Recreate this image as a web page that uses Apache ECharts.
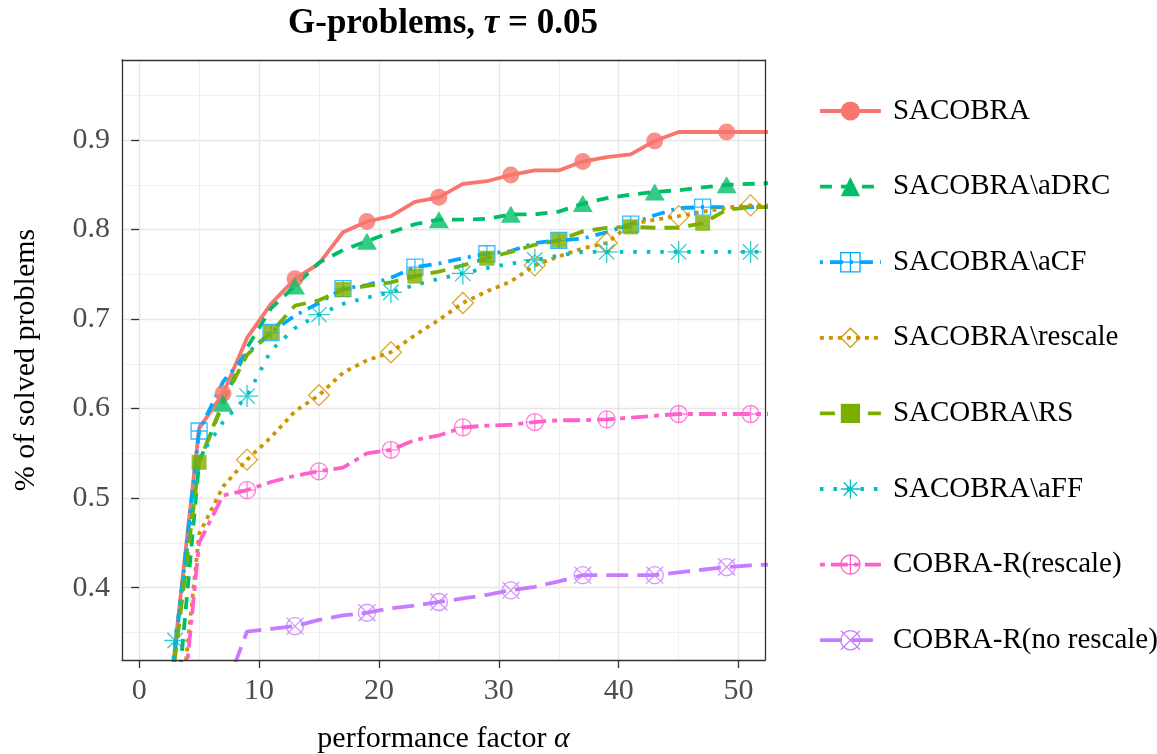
<!DOCTYPE html>
<html><head><meta charset="utf-8">
<script src="https://cdn.jsdelivr.net/npm/echarts@6/dist/echarts.min.js"></script>
<style>html,body{margin:0;padding:0;background:#fff}#c{width:1157px;height:754px}</style>
</head><body><div id="c"></div>
<script>
// ---- data ----
const alphaX = [1,3,5,7,9,11,13,15,17,19,21,23,25,27,29,31,33,35,37,39,41,43,45,47,49,51,53];
const seriesNames = ['SACOBRA','SACOBRA\\aDRC','SACOBRA\\aCF','SACOBRA\\rescale','SACOBRA\\RS','SACOBRA\\aFF','COBRA-R(rescale)','COBRA-R(no rescale)'];
const sacobra      = [0.05,0.335,0.578,0.617,0.679,0.717,0.745,0.762,0.797,0.809,0.815,0.831,0.836,0.851,0.854,0.861,0.866,0.866,0.876,0.881,0.884,0.899,0.909,0.909,0.909,0.909,0.909];
const noADRC       = [0.05,0.245,0.540,0.606,0.668,0.712,0.737,0.763,0.777,0.787,0.797,0.806,0.811,0.811,0.812,0.817,0.817,0.820,0.829,0.835,0.839,0.842,0.844,0.847,0.850,0.851,0.852];
const noACF        = [0.05,0.330,0.575,0.630,0.662,0.685,0.704,0.718,0.734,0.738,0.746,0.758,0.762,0.768,0.773,0.776,0.785,0.788,0.790,0.797,0.806,0.816,0.824,0.825,0.825,0.825,0.825];
const noRescale    = [0.03,0.200,0.460,0.513,0.543,0.568,0.597,0.615,0.640,0.654,0.663,0.682,0.699,0.718,0.731,0.742,0.760,0.770,0.779,0.785,0.806,0.811,0.815,0.820,0.824,0.827,0.827];
const noRS         = [0.05,0.323,0.540,0.608,0.660,0.685,0.715,0.721,0.733,0.737,0.741,0.748,0.753,0.760,0.768,0.775,0.783,0.788,0.798,0.802,0.803,0.802,0.802,0.807,0.822,0.825,0.825];
const noAFF        = [0.05,0.341,0.545,0.585,0.614,0.665,0.690,0.705,0.717,0.724,0.730,0.738,0.745,0.751,0.757,0.762,0.766,0.771,0.775,0.775,0.775,0.775,0.775,0.775,0.775,0.775,0.775];
const cobraRescale = [0.02,0.177,0.450,0.503,0.509,0.518,0.525,0.530,0.534,0.550,0.554,0.565,0.570,0.579,0.581,0.582,0.585,0.587,0.587,0.588,0.590,0.592,0.594,0.594,0.594,0.594,0.594];
const cobraNoResc  = [0.02,0.050,0.100,0.280,0.351,0.354,0.357,0.364,0.369,0.372,0.377,0.380,0.384,0.388,0.392,0.397,0.401,0.407,0.414,0.414,0.414,0.414,0.417,0.420,0.423,0.425,0.426];
const allValues = [sacobra, noADRC, noACF, noRescale, noRS, noAFF, cobraRescale, cobraNoResc];
const markerStart = [1,1,5,3,5,3,3,1];
const markerEvery = 6;
const xTicks = [0,10,20,30,40,50];
const yTicks = [0.4,0.5,0.6,0.7,0.8,0.9];

// ---- styles ----
const FONT = 'Liberation Serif';
const colors = ['#F8766D','#00BE67','#00A9FF','#CD9600','#7CAE00','#00BFC4','#FF61CC','#C77CFF'];
const dashes = ['solid',[12,9],[3,7,13,7],[4,5],[15,9],[3.5,10],[5,6,17,6],[22,9]];
const symbols = [
  'circle',
  'triangle',
  'path://M0,0H20V20H0Z M10,0V20 M0,10H20',
  'path://M10,0L20,10L10,20L0,10Z',
  'rect',
  'path://M10,0V20 M0,10H20 M3,3L17,17 M3,17L17,3',
  'path://M0,10A10,10,0,1,0,20,10A10,10,0,1,0,0,10Z M10,0V20 M0,10H20',
  'path://M0,10A10,10,0,1,0,20,10A10,10,0,1,0,0,10Z M0,0L20,20 M0,20L20,0'
];
const symSizes = [17,[20,17],16,21,15,22,17,17];
const filled = [true,true,false,false,true,false,false,false];
const LW = 3.8;
function iStyle(i){
  return filled[i] ? {color: colors[i], borderWidth: 0}
                   : {color: 'rgba(0,0,0,0)', borderColor: colors[i], borderWidth: 1.3};
}

const X_MIN = -1.43, X_MAX = 52.2, Y_MIN = 0.3192, Y_MAX = 0.9894;

const series = [];
seriesNames.forEach((n,i)=>{
  series.push({
    name: n, type: 'line', z: 2, silent: true, clip: true,
    data: alphaX.map((x,k)=>[x, allValues[i][k]]),
    showSymbol: false, symbol: symbols[i], symbolSize: symSizes[i],
    lineStyle: {color: colors[i], width: LW, type: dashes[i], cap: 'butt'},
    itemStyle: iStyle(i),
    emphasis: {disabled: true}
  });
});
seriesNames.forEach((n,i)=>{
  const pts = [];
  alphaX.forEach((x,k)=>{ if (x >= markerStart[i] && (x - markerStart[i]) % markerEvery === 0) pts.push([x, allValues[i][k]]); });
  series.push({
    name: n, type: 'scatter', z: 3, silent: true, clip: true,
    data: pts, symbol: symbols[i], symbolSize: symSizes[i],
    itemStyle: iStyle(i), emphasis: {disabled: true}
  });
});

const borderAxis = (pos) => ({
  type: 'value', position: pos, min: (pos==='top'||pos==='bottom')?X_MIN:Y_MIN, max: (pos==='top'||pos==='bottom')?X_MAX:Y_MAX,
  z: 5, axisLine: {show: true, onZero: false, lineStyle: {color: '#333333', width: 1.3}},
  axisTick: {show: false}, axisLabel: {show: false}, splitLine: {show: false}
});

const option = {
  animation: false,
  backgroundColor: '#ffffff',
  title: {
    text: '{b|G-problems, }{t|τ}{b| = 0.05}',
    left: 443, top: 6, textAlign: 'center', padding: 0,
    textStyle: {rich: {
      b: {fontFamily: FONT, fontSize: 35, fontWeight: 'bold', color: '#000'},
      t: {fontFamily: FONT, fontSize: 35, fontWeight: 'bold', fontStyle: 'italic', color: '#000'}
    }}
  },
  grid: {left: 122, top: 60, width: 643, height: 600, containLabel: false, outerBoundsMode: 'none'},
  legend: {
    orient: 'vertical', left: 818, top: 96, padding: 0, itemGap: 45.6,
    itemWidth: 61, itemHeight: 24, selectedMode: false,
    textStyle: {fontFamily: FONT, fontSize: 29, color: '#000', lineHeight: 30, padding: [0,0,0,7]},
    data: seriesNames.map((n,i)=>({
      name: n,
      itemStyle: filled[i] ? {color: colors[i], borderWidth: 0} : {color: 'rgba(0,0,0,0)', borderColor: colors[i], borderWidth: 1.3},
      lineStyle: {color: colors[i], width: LW, type: dashes[i]}
    }))
  },
  xAxis: [
    {
      type: 'value', position: 'bottom', min: X_MIN, max: X_MAX, minInterval: 10, maxInterval: 10, z: 0,
      axisLine: {show: false},
      axisTick: {show: true, customValues: xTicks, length: 8, lineStyle: {color: '#333333', width: 1.3}},
      axisLabel: {customValues: xTicks, margin: 16, fontFamily: FONT, fontSize: 30, color: '#4D4D4D'},
      splitLine: {show: true, lineStyle: {color: '#E6E6E6', width: 1.4}},
      minorTick: {show: false, splitNumber: 2},
      minorSplitLine: {show: true, lineStyle: {color: '#F0F0F0', width: 1}},
      name: '{n|performance factor }{a|α}', nameLocation: 'middle', nameGap: 64,
      nameTextStyle: {rich: {
        n: {fontFamily: FONT, fontSize: 30, color: '#000'},
        a: {fontFamily: FONT, fontSize: 30, fontStyle: 'italic', color: '#000'}
      }}
    },
    borderAxis('top'),
    borderAxis('bottom')
  ],
  yAxis: [
    {
      type: 'value', position: 'left', min: Y_MIN, max: Y_MAX, minInterval: 0.1, maxInterval: 0.1, z: 0,
      axisLine: {show: false},
      axisTick: {show: true, customValues: yTicks, length: 8, lineStyle: {color: '#333333', width: 1.3}},
      axisLabel: {customValues: yTicks, margin: 12, fontFamily: FONT, fontSize: 30, color: '#4D4D4D',
                  formatter: v => v.toFixed(1)},
      splitLine: {show: true, lineStyle: {color: '#E6E6E6', width: 1.4}},
      minorTick: {show: false, splitNumber: 2},
      minorSplitLine: {show: true, lineStyle: {color: '#F0F0F0', width: 1}},
      name: '% of solved problems', nameLocation: 'middle', nameGap: 81,
      nameTextStyle: {fontFamily: FONT, fontSize: 30, color: '#000'}
    },
    borderAxis('right'),
    borderAxis('left')
  ],
  series: series
};
const chart = echarts.init(document.getElementById('c'), null, {renderer: 'canvas'});
chart.setOption(option);
</script>
</body></html>
